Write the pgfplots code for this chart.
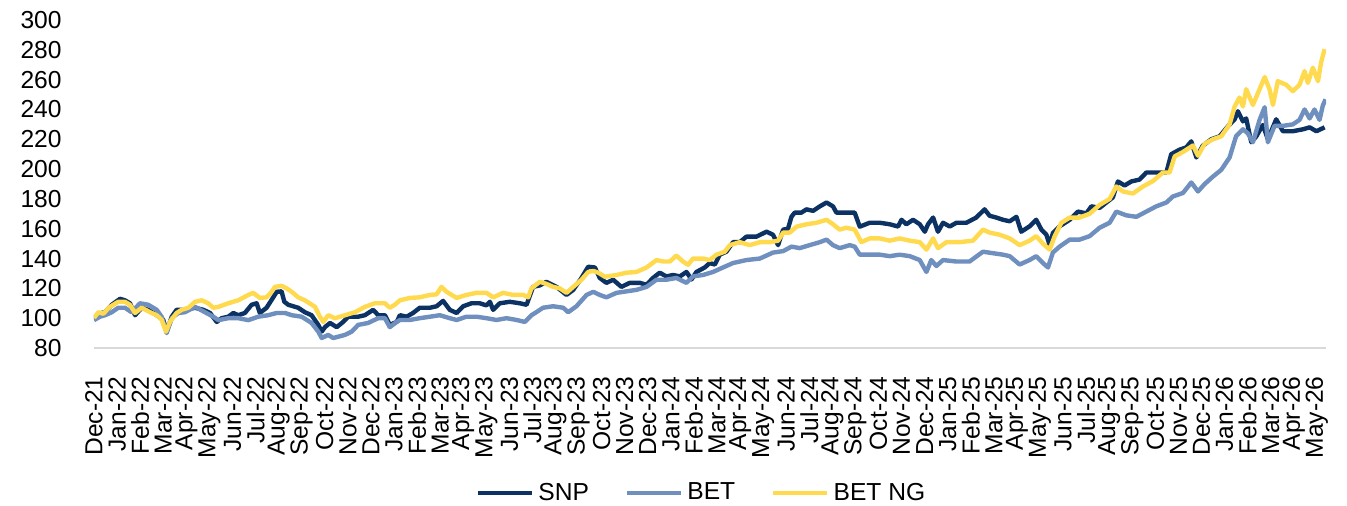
\documentclass[border=0pt]{standalone}
\usepackage{fontspec}
\setmainfont{Liberation Sans}
\usepackage{pgfplots}
\pgfplotsset{compat=1.18}
\definecolor{snpblue}{HTML}{0B3262}
\definecolor{betblue}{HTML}{6F8FBE}
\definecolor{betngyellow}{HTML}{FFDA4F}
\definecolor{axisgray}{HTML}{D9D9D9}

\begin{document}
\begin{tikzpicture}
\useasboundingbox (-47pt,-78.5pt) rectangle (626.5pt,174pt);
\begin{axis}[
    at={(0,0)}, anchor=south west,
    scale only axis, width=616pt, height=164pt,
    xmin=0, xmax=53.4, ymin=80, ymax=300,
    xtick={0,...,53},
    xticklabels={Dec-21,Jan-22,Feb-22,Mar-22,Apr-22,May-22,Jun-22,Jul-22,Aug-22,Sep-22,Oct-22,Nov-22,
        Dec-22,Jan-23,Feb-23,Mar-23,Apr-23,May-23,Jun-23,Jul-23,Aug-23,Sep-23,Oct-23,Nov-23,
        Dec-23,Jan-24,Feb-24,Mar-24,Apr-24,May-24,Jun-24,Jul-24,Aug-24,Sep-24,Oct-24,Nov-24,
        Dec-24,Jan-25,Feb-25,Mar-25,Apr-25,May-25,Jun-25,Jul-25,Aug-25,Sep-25,Oct-25,Nov-25,
        Dec-25,Jan-26,Feb-26,Mar-26,Apr-26,May-26},
    ytick={80,100,...,300},
    axis x line*=bottom, axis y line*=left,
    x axis line style={-, draw=axisgray, line width=0.9pt},
    y axis line style={draw=none},
    major tick length=0pt, tick style={draw=none},
    xticklabel style={rotate=90, anchor=east, inner sep=0pt, font=\fontsize{12.3}{14}\selectfont},
    xticklabel shift=14pt,
    yticklabel style={anchor=east, inner sep=0pt, font=\fontsize{12.3}{14}\selectfont},
    yticklabel shift=16pt,
    /pgf/number format/assume math mode=true,
    legend style={at={(0.494,-0.442)}, anchor=center, draw=none, legend columns=3,
        font=\fontsize{12.3}{14}\selectfont,
        /tikz/every odd column/.append style={column sep=0pt},
        /tikz/every even column/.append style={column sep=16pt}},
    legend image code/.code={\draw[#1] (0pt,0pt) -- (27pt,0pt);},
    every axis plot/.append style={line width=2.2pt, line join=round, mark=none},
]
% SNP
\addplot[snpblue] coordinates {
(0,100) (0.19,103) (0.48,104) (0.77,109) (1.13,113) (1.34,112) (1.56,110) (1.78,102)
(2.07,107) (2.35,105.6) (2.72,102) (3.00,99) (3.15,91) (3.37,101) (3.58,105.6) (3.94,105.6)
(4.38,107) (4.74,105.6) (5.03,103.5) (5.32,97.5) (5.53,100) (5.82,101) (6.04,103.5) (6.25,102)
(6.54,103.5) (6.83,109) (7.05,110) (7.19,103.5) (7.48,107) (7.77,114) (7.92,117.7) (8.13,118)
(8.25,111) (8.42,109) (8.85,107) (9.14,104) (9.43,102) (9.72,95.5) (9.87,91) (10.01,94)
(10.23,96.8) (10.52,94) (10.80,97.5) (11.02,101) (11.45,101) (11.74,102) (12.10,105.6) (12.32,102)
(12.61,102) (12.82,95.5) (13.12,97.5) (13.26,102) (13.55,101) (13.83,103.5) (14.12,107) (14.56,107)
(14.85,108) (15.13,111.6) (15.42,105.6) (15.72,103.5) (16.00,108) (16.36,110) (16.72,110) (17.01,108.6)
(17.16,111) (17.30,105.6) (17.59,110) (18.02,111) (18.46,110) (18.75,109) (19.03,121) (19.32,122)
(19.61,124.4) (20.05,121) (20.48,115.6) (20.77,119) (21.13,127) (21.42,134.5) (21.71,134) (21.92,127)
(22.21,123.7) (22.50,125.8) (22.86,121) (23.22,123.7) (23.66,123.7) (23.95,122.4) (24.23,127) (24.52,130.5)
(24.81,128) (25.10,129) (25.39,128) (25.68,131) (25.90,126) (26.11,131) (26.47,134) (26.69,137)
(26.91,136) (27.12,142.6) (27.41,144.6) (27.70,151) (27.99,151) (28.28,154.7) (28.71,154.7) (29.15,158)
(29.43,156) (29.65,149) (29.87,159.4) (30.08,160) (30.23,168) (30.37,170.8) (30.66,170.8) (30.88,173)
(31.17,172) (31.46,175) (31.75,177.6) (32.03,175) (32.18,170.8) (32.61,170.8) (32.97,170.8) (33.19,161.4)
(33.62,164) (34.06,164) (34.49,163) (34.85,161.5) (35.00,166) (35.21,163) (35.50,166) (35.79,163)
(36.01,158) (36.15,163) (36.37,167.5) (36.58,158) (36.80,164) (37.09,161.5) (37.38,164) (37.81,164)
(38.24,167.5) (38.60,173) (38.82,168.7) (39.11,167.5) (39.40,166) (39.69,165) (39.98,168) (40.19,158)
(40.55,161.6) (40.84,166) (41.06,159.5) (41.28,156) (41.42,149) (41.56,157) (41.85,161.6) (42.29,166)
(42.65,171.5) (43.01,170.3) (43.23,175) (43.59,174) (43.88,177.6) (44.16,181) (44.38,191.7) (44.67,189)
(44.96,191.7) (45.32,193) (45.61,197.7) (46.04,197.7) (46.48,197.7) (46.69,210) (47.05,213) (47.34,214.5)
(47.56,218.6) (47.78,207.8) (48.06,215.8) (48.43,220) (48.79,222) (49.15,228.7) (49.44,233.4) (49.58,238.8)
(49.80,232) (49.94,234) (50.16,218) (50.38,222) (50.66,229.6) (50.88,220) (51.24,233.4) (51.53,225.4)
(51.96,225.4) (52.40,226.7) (52.69,228) (52.98,225.4) (53.34,228)
};
\addlegendentry{SNP}
% BET
\addplot[betblue] coordinates {
(0,98.7) (0.26,101) (0.48,102) (0.77,104) (1.05,107) (1.34,107) (1.63,104) (1.99,110)
(2.35,109) (2.72,105.6) (2.93,101) (3.15,90) (3.37,100) (3.65,103.5) (3.94,104) (4.38,107.6)
(4.81,104) (5.17,101) (5.39,98.7) (5.82,100) (6.25,100) (6.69,98.7) (7.12,101) (7.55,102)
(7.92,103.5) (8.28,103.5) (8.57,102) (9.00,101) (9.43,96.8) (9.72,91) (9.87,86.7) (10.15,88.8)
(10.37,86.7) (10.88,88.8) (11.17,91) (11.45,95.5) (11.88,96.8) (12.32,100) (12.61,100) (12.82,94)
(13.12,97.5) (13.26,98.8) (13.69,98.8) (14.12,100) (14.56,101) (14.99,102) (15.42,100) (15.72,98.8)
(16.14,101) (16.58,101) (17.01,100) (17.45,98.8) (17.88,100) (18.32,98.8) (18.67,97.5) (18.96,102)
(19.17,104) (19.46,107) (19.90,108) (20.34,107) (20.55,104) (20.91,108) (21.35,115.6) (21.64,117.7)
(21.92,115.6) (22.21,114) (22.65,117) (23.08,118) (23.51,119) (23.95,121) (24.38,125.8) (24.81,125.8)
(25.24,127) (25.68,123.7) (25.96,128) (26.40,129) (26.83,131) (27.26,134) (27.70,137) (28.28,139)
(28.86,140) (29.43,144) (29.87,145) (30.23,148) (30.59,147) (31.02,149) (31.46,151) (31.75,152.7)
(32.03,149) (32.32,147) (32.76,149) (32.97,148) (33.19,142.6) (33.62,142.6) (34.06,142.6) (34.49,141.6)
(34.92,142.6) (35.36,141.6) (35.79,139) (36.08,131) (36.29,139) (36.51,135) (36.80,139) (37.38,138)
(37.95,138) (38.53,144.6) (38.96,143.6) (39.40,142.6) (39.69,141.6) (40.12,136) (40.55,139) (40.84,141.6)
(41.13,137) (41.35,134) (41.56,144) (41.85,148) (42.29,152.7) (42.72,152.7) (43.15,155) (43.59,160.7)
(44.02,164) (44.31,171.5) (44.74,169) (45.18,168) (45.61,171.5) (46.04,175) (46.48,177.6) (46.76,181.6)
(47.20,184) (47.56,191) (47.85,185) (48.14,190) (48.50,195) (48.86,199.5) (49.22,207.8) (49.50,222)
(49.80,226.7) (50.01,224) (50.23,218) (50.52,233) (50.74,241.5) (50.88,218) (51.17,229) (51.53,229)
(51.96,230) (52.25,233) (52.47,240) (52.69,234) (52.90,240) (53.12,233) (53.26,242.6) (53.38,246.8)
};
\addlegendentry{BET}
% BET NG
\addplot[betngyellow] coordinates {
(0,100.2) (0.19,104) (0.40,103) (0.69,107.6) (1.05,111) (1.34,111) (1.56,109) (1.78,103.5)
(2.07,107) (2.43,104) (2.72,102) (2.93,99) (3.12,91) (3.29,97.5) (3.58,103.5) (3.80,105.6)
(4.09,107) (4.38,111) (4.67,112) (4.95,110) (5.17,107) (5.39,107.6) (5.82,110) (6.25,112)
(6.69,115.6) (6.90,117) (7.19,113.6) (7.48,114) (7.70,117.7) (7.84,121) (8.13,121.7) (8.35,120)
(8.57,117.7) (8.85,114) (9.14,112) (9.58,107.6) (9.79,101) (9.94,97.5) (10.15,102) (10.44,100)
(10.88,102) (11.31,104) (11.74,107.6) (12.17,110) (12.61,110) (12.82,107) (13.04,109) (13.26,112)
(13.69,113.6) (14.12,114) (14.56,115.6) (14.85,116) (15.06,121) (15.28,117.7) (15.72,113.6) (16.14,115.6)
(16.58,117) (17.01,117) (17.30,114) (17.73,117) (18.17,115.6) (18.61,115.6) (18.82,114) (18.96,120)
(19.32,124.4) (19.61,123) (19.90,121) (20.19,120) (20.48,117) (20.77,121) (21.13,125.8) (21.42,131)
(21.64,131.7) (21.86,130.5) (22.14,127.8) (22.65,129) (23.08,130.5) (23.51,131) (23.95,134) (24.38,139)
(24.67,138) (24.96,138) (25.24,142) (25.53,138) (25.75,135.8) (25.96,140) (26.40,140) (26.69,139)
(26.98,142.6) (27.34,144.6) (27.56,149) (27.99,151) (28.42,149) (28.86,151) (29.29,151) (29.65,152)
(29.87,157.4) (30.16,157.4) (30.45,161.4) (30.88,163) (31.31,164) (31.75,166) (32.03,163) (32.32,159.4)
(32.61,160.7) (32.97,159.4) (33.26,151) (33.62,153.5) (34.06,153.5) (34.49,152) (34.92,153.5) (35.36,152)
(35.79,151) (36.08,146) (36.37,153.5) (36.58,147) (36.95,151) (37.52,151) (38.10,152) (38.53,159.4)
(38.82,157.4) (39.25,156) (39.69,153.5) (40.12,149) (40.55,152) (40.84,155) (41.13,150) (41.42,146)
(41.64,155) (41.93,164) (42.29,167.5) (42.72,167.5) (43.15,170) (43.59,176) (44.02,180) (44.31,188.3)
(44.60,185) (45.03,183.6) (45.46,188.3) (45.90,192) (46.33,197.7) (46.62,197.7) (46.84,208.5) (47.20,211.5)
(47.63,215.8) (47.85,209) (48.14,217) (48.50,220) (48.86,222) (49.22,230) (49.44,242) (49.65,248)
(49.80,242) (49.94,253.6) (50.23,243) (50.52,253.6) (50.74,261.7) (50.95,253.6) (51.10,243) (51.31,259)
(51.68,256.5) (51.96,252.3) (52.25,256.5) (52.47,265.7) (52.61,257.8) (52.83,268) (53.05,259) (53.19,271.8)
(53.34,280.5)
};
\addlegendentry{BET NG}
\end{axis}
\end{tikzpicture}
\end{document}
